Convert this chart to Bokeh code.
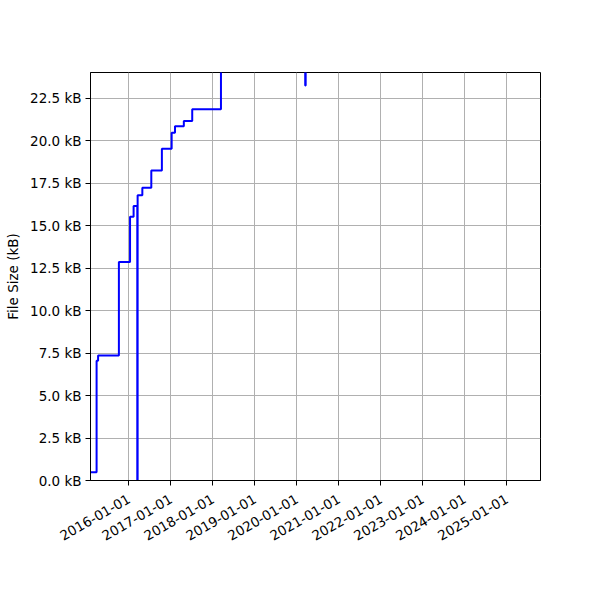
import math
from datetime import datetime
from bokeh.plotting import figure
from bokeh.models import Range1d, FixedTicker, DatetimeTickFormatter, PrintfTickFormatter
from bokeh.embed import file_html
from bokeh.resources import INLINE

# ---- data ----
dates = [
    "2015-01-10", "2015-03-26", "2015-04-08", "2015-10-06", "2016-01-11",
    "2016-02-11", "2016-03-14", "2016-03-17", "2016-04-27", "2016-07-14",
    "2016-10-14", "2017-01-07", "2017-02-05", "2017-04-23", "2017-07-05",
    "2018-03-12", "2020-03-14", "2020-03-18", "2025-05-01",
]
sizes_kb = [
    0.49, 7.05, 7.36, 12.85, 15.51,
    16.14, 0.0, 16.78, 17.22, 18.23,
    19.52, 20.46, 20.84, 21.15, 21.84,
    27.5, 23.23, 28.0, 30.0,
]
tick_years = list(range(2016, 2026))
x_start = "2015-02-01"
x_end = "2025-10-21"
y_max = 24.0

# ---- build ----
xs = [datetime.strptime(d, "%Y-%m-%d") for d in dates]
epoch = datetime(1970, 1, 1)
def ms(dt):
    return (dt - epoch).total_seconds() * 1000.0

x0 = datetime.strptime(x_start, "%Y-%m-%d")
x1 = datetime.strptime(x_end, "%Y-%m-%d")

FONT = "DejaVu Sans"
FS = "13.5px"

p = figure(
    x_axis_type="datetime",
    x_range=Range1d(ms(x0), ms(x1)),
    y_range=Range1d(0, y_max),
    frame_width=450, frame_height=408,
    min_border_left=90, min_border_top=72,
    min_border_right=52, min_border_bottom=104,
    output_backend="svg", toolbar_location=None,
)
p.background_fill_color = "white"
p.border_fill_color = "white"
p.outline_line_color = "black"
p.outline_line_width = 1
p.outline_line_alpha = 1

p.step(x=xs, y=sizes_kb, mode="after", line_color="#0000ff", line_width=2)

# x axis
xa = p.xaxis[0]
xa.ticker = FixedTicker(ticks=[ms(datetime(y, 1, 1)) for y in tick_years])
fmt = "%Y-%m-%d"
xa.formatter = DatetimeTickFormatter(
    microseconds=fmt, milliseconds=fmt, seconds=fmt, minsec=fmt, minutes=fmt,
    hourmin=fmt, hours=fmt, days=fmt, months=fmt, years=fmt,
)
xa.major_label_orientation = math.pi / 6

# y axis
ya = p.yaxis[0]
ya.ticker = FixedTicker(ticks=[i * 2.5 for i in range(10)])
ya.formatter = PrintfTickFormatter(format="%.1f kB")
ya.axis_label = "File Size (kB)"
ya.axis_label_text_font = FONT
ya.axis_label_text_font_size = FS
ya.axis_label_text_font_style = "normal"
ya.axis_label_text_color = "black"
ya.axis_label_standoff = 6

for ax in (xa, ya):
    ax.major_label_text_font = FONT
    ax.major_label_text_font_size = FS
    ax.major_label_text_color = "black"
    ax.axis_line_color = "black"
    ax.axis_line_width = 1
    ax.major_tick_line_color = "black"
    ax.major_tick_out = 5
    ax.major_tick_in = 0
    ax.minor_tick_line_color = None
    ax.major_label_standoff = 4
xa.major_label_standoff = 12

p.grid.grid_line_color = "#b0b0b0"
p.grid.grid_line_width = 1

open("out.html", "w").write(file_html(p, INLINE))
